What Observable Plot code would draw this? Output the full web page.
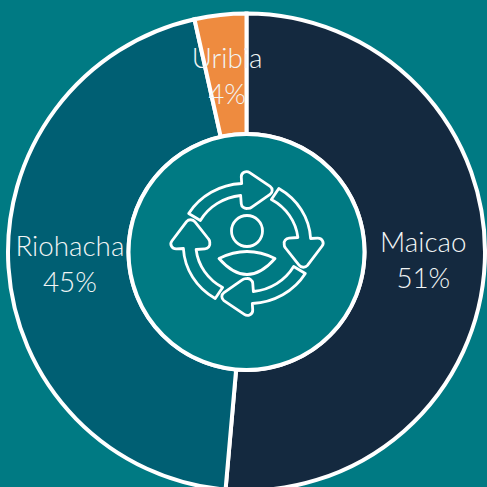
<!DOCTYPE html>
<html><head><meta charset="utf-8">
<script src="https://cdn.jsdelivr.net/npm/d3@7"></script>
<script src="https://cdn.jsdelivr.net/npm/@observablehq/plot@0.6"></script>
<style>html,body{margin:0;padding:0;background:#007A83;overflow:hidden}svg{display:block}</style>
</head><body><div id="chart"></div>
<script>
const categories = ["Maicao", "Riohacha", "Uribia"];
const shares = [51.4, 45.1, 3.5];
const sliceColors = ["#14293F", "#005F73", "#EE8B3F"];
const bg = "#007A83";

const size = 487, cx = 246.5, cy = 252, rOuter = 238.5, rInner = 118;
const total = d3.sum(shares);
const pie = d3.pie().sort(null)(shares);
const arc = d3.arc().innerRadius(rInner).outerRadius(rOuter);
const labelArc = d3.arc().innerRadius(118).outerRadius(236);
const rows = categories.map((c, i) => {
  const [dx, dy] = labelArc.centroid(pie[i]);
  return {label: c + "\n" + Math.round(shares[i] / total * 100) + "%", x: 246 + dx, y: 250 + dy};
});

function donut(index, {x, y}) {
  const g = d3.create("svg:g").attr("transform", `translate(${x(cx)},${y(cy)})`);
  g.selectAll("path").data(pie).join("path")
    .attr("d", arc).attr("fill", (d, i) => sliceColors[i])
    .attr("stroke", "white").attr("stroke-width", 4);
  g.append("circle").attr("r", rInner).attr("fill", bg).attr("stroke", "white").attr("stroke-width", 4);
  return g.node();
}

function arrowPath() {
  const s = "M-55,-30 L-44,-23 A50,50 0 0 1 -6,-48 ";
  const q = d3.path();
  q.moveTo(-6, -48);
  q.arcTo(-5, -34, 0, -35, 5);
  q.arcTo(3, -35, 25, -54, 5);
  q.arcTo(27, -53, 0, -74, 5);
  q.arcTo(-6, -77, -5, -60, 5);
  q.lineTo(-5, -60);
  return s + q.toString().replace(/^M[^LAQC]*/, "L-6,-48") + " A62,62 0 0 0 -55,-30 Z";
}

function icon(index, {x, y}) {
  const g = d3.create("svg:g").attr("fill", "none").attr("stroke", "white")
    .attr("stroke-width", 2.8).attr("stroke-linejoin", "round")
    .attr("transform", `translate(${x(247)},${y(243.5)})`);
  const d = arrowPath();
  [0, 90, 180, 270].forEach(a => g.append("path").attr("d", d)
    .attr("transform", `scale(1.06,1) rotate(${a})`).attr("vector-effect", "non-scaling-stroke"));
  g.append("circle").attr("cy", -12.5).attr("r", 15.5);
  g.append("path").attr("d", "M-28,15 Q0,1 28,15 Q0,47 -28,15 Z");
  return g.node();
}

const chart = Plot.plot({
  width: size, height: size, margin: 0,
  style: {background: bg},
  x: {domain: [0, size], range: [0, size], axis: null},
  y: {domain: [0, size], range: [0, size], axis: null},
  marks: [
    donut,
    icon,
    Plot.text(rows, {
      x: "x", y: "y", text: "label", fill: "#F2F5F5",
      fontFamily: "Lato", fontWeight: 300, fontSize: 27.8, lineHeight: 1.3
    })
  ]
});
document.getElementById("chart").append(chart);
</script></body></html>
